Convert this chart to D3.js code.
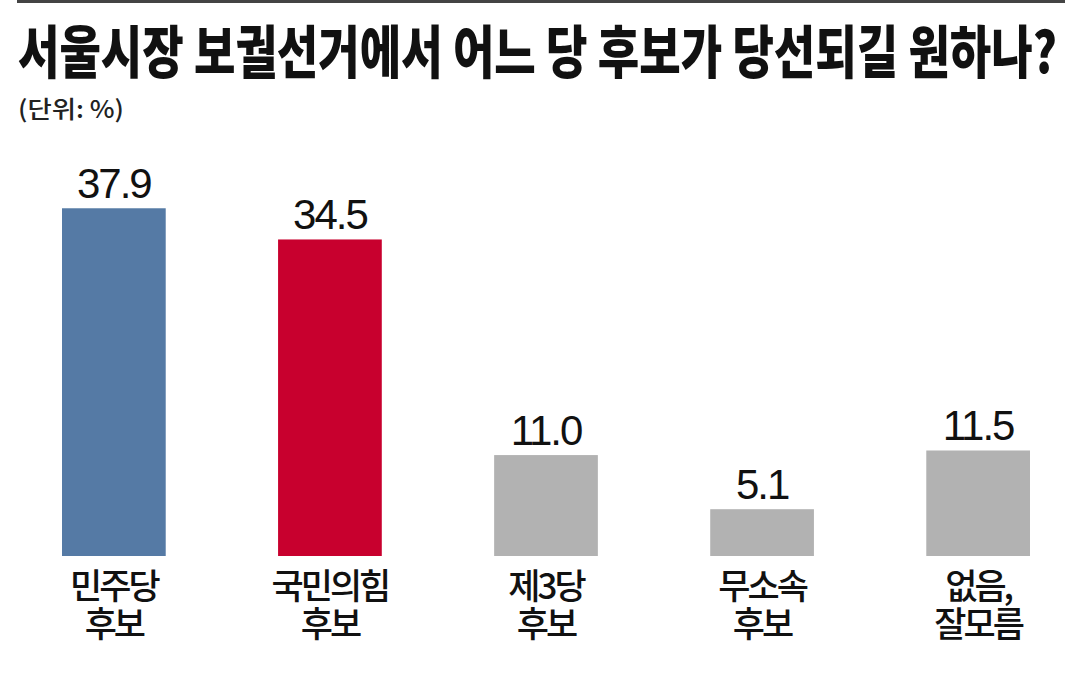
<!DOCTYPE html>
<html>
<head>
<meta charset="utf-8">
<script src="https://cdn.jsdelivr.net/npm/d3@7"></script>
<style>
  html, body { margin: 0; padding: 0; background: #fff; }
  svg { display: block; }
</style>
</head>
<body>
<svg id="chart" width="1079" height="679"></svg>
<script>
const title = "서울시장 보궐선거에서 어느 당 후보가 당선되길 원하나?";
const unitLabel = "(단위: %)";
const categories = ["민주당\n후보", "국민의힘\n후보", "제3당\n후보", "무소속\n후보", "없음,\n잘모름"];
const values = [37.9, 34.5, 11.0, 5.1, 11.5];
const barColors = ["#557aa5", "#c8002e", "#b2b2b2", "#b2b2b2", "#b2b2b2"];

const svg = d3.select("#chart");

// top rule
svg.append("rect")
  .attr("x", 17).attr("y", 0)
  .attr("width", 1048).attr("height", 3)
  .attr("fill", "#444");

// fit a text horizontally into a given width by scaling
function fitText(sel, x0, targetW) {
  const w = sel.node().getComputedTextLength();
  const k = targetW / w;
  sel.attr("x", 0)
     .attr("transform", `translate(${x0},0) scale(${k},1)`);
}

const titleText = svg.append("text")
  .attr("y", 73)
  .attr("font-family", "'Noto Sans CJK KR', 'Noto Sans', sans-serif")
  .attr("font-weight", 900)
  .attr("font-size", 57)
  .attr("fill", "#111")
  .text(title);
fitText(titleText, 18, 1039);

const unitText = svg.append("text")
  .attr("y", 118)
  .attr("font-family", "'Noto Sans CJK KR', 'Noto Sans', sans-serif")
  .attr("font-weight", 500)
  .attr("font-size", 24)
  .attr("fill", "#222")
  .text(unitLabel);
fitText(unitText, 18, 106);

const x = d3.scaleBand()
  .domain(categories)
  .range([62, 1030])
  .paddingInner(0.52)
  .paddingOuter(0);

const y = d3.scaleLinear()
  .domain([0, 40])
  .range([556, 189]);

const g = svg.append("g");

g.selectAll("rect.bar")
  .data(values)
  .join("rect")
  .attr("class", "bar")
  .attr("x", (d, i) => x(categories[i]))
  .attr("width", x.bandwidth())
  .attr("y", d => y(d))
  .attr("height", d => y(0) - y(d))
  .attr("fill", (d, i) => barColors[i]);

g.selectAll("text.val")
  .data(values)
  .join("text")
  .attr("class", "val")
  .attr("x", (d, i) => x(categories[i]) + x.bandwidth() / 2)
  .attr("y", d => y(d) - 10)
  .attr("text-anchor", "middle")
  .attr("font-family", "'Liberation Sans', Arial, sans-serif")
  .attr("font-size", 42)
  .attr("letter-spacing", -2)
  .attr("fill", "#111")
  .text(d => d.toFixed(1));

const labels = g.selectAll("text.cat")
  .data(categories)
  .join("text")
  .attr("class", "cat")
  .attr("x", d => x(d) + x.bandwidth() / 2)
  .attr("y", 599)
  .attr("text-anchor", "middle")
  .attr("font-family", "'Noto Sans CJK KR', 'Noto Sans', sans-serif")
  .attr("font-weight", 500)
  .attr("font-size", 35)
  .attr("letter-spacing", -3)
  .attr("fill", "#111");

labels.each(function(d) {
  const t = d3.select(this);
  const cx = x(d) + x.bandwidth() / 2;
  d.split("\n").forEach((line, i) => {
    t.append("tspan")
      .attr("x", cx)
      .attr("dy", i === 0 ? 0 : 38)
      .text(line);
  });
});
</script>
</body>
</html>
